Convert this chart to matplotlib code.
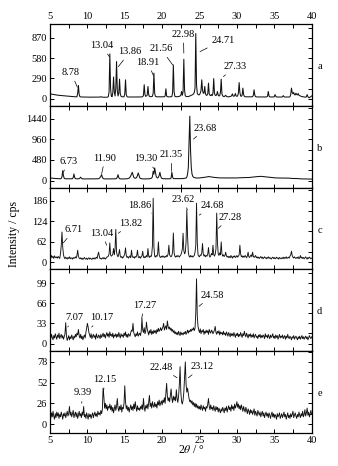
import numpy as np
import matplotlib.pyplot as plt
from matplotlib.ticker import MultipleLocator

plt.rcParams['font.family'] = ['Liberation Serif', 'DejaVu Serif']
plt.rcParams['mathtext.fontset'] = 'stix'

# 2theta grid, 0.1 deg step from 5 to 40
two_theta = np.round(np.arange(5, 40.001, 0.1), 1)

# intensities, one row per degree (x.0 ... x.9)
intensity_a = [
    72, 70, 66, 64, 62, 60, 58, 57, 55, 54,
    52, 50, 49, 48, 47, 46, 45, 44, 43, 42,
    41, 40, 39, 38, 37, 36, 35, 34, 33, 32,
    31, 30, 30, 29, 29, 28, 28, 80, 190, 60,
    30, 27, 26, 26, 25, 25, 25, 24, 24, 24,
    24, 23, 23, 23, 23, 22, 22, 22, 22, 22,
    22, 22, 22, 22, 22, 22, 22, 24, 30, 26,
    23, 22, 22, 22, 22, 22, 22, 24, 30, 100,
    640, 150, 40, 30, 90, 310, 100, 40, 150, 530,
    120, 40, 80, 280, 70, 35, 30, 28, 28, 28,
    70, 270, 60, 30, 26, 25, 25, 25, 25, 25,
    25, 25, 25, 25, 25, 25, 25, 25, 25, 25,
    25, 25, 26, 28, 30, 50, 200, 60, 35, 40,
    50, 175, 60, 35, 30, 30, 32, 35, 80, 365,
    80, 35, 30, 28, 28, 28, 28, 28, 28, 28,
    28, 28, 28, 30, 40, 142, 40, 30, 28, 28,
    28, 28, 30, 32, 90, 482, 100, 35, 30, 30,
    30, 30, 32, 35, 40, 50, 104, 50, 100, 563,
    120, 40, 35, 32, 32, 32, 35, 40, 45, 50,
    55, 60, 70, 90, 150, 930, 200, 80, 60, 55,
    60, 80, 120, 270, 120, 80, 80, 175, 70, 50,
    50, 70, 223, 70, 50, 45, 60, 45, 80, 288,
    80, 50, 45, 60, 104, 50, 40, 45, 90, 280,
    70, 40, 35, 30, 40, 50, 35, 30, 28, 28,
    30, 32, 35, 45, 70, 40, 35, 45, 75, 40,
    35, 40, 80, 231, 90, 40, 35, 50, 152, 60,
    35, 30, 28, 28, 28, 28, 28, 28, 28, 28,
    28, 30, 50, 128, 50, 30, 28, 26, 26, 26,
    26, 26, 26, 26, 26, 26, 26, 26, 26, 26,
    28, 35, 104, 40, 28, 26, 26, 26, 26, 26,
    28, 60, 35, 26, 25, 25, 25, 25, 25, 25,
    25, 28, 45, 30, 25, 25, 25, 25, 25, 25,
    25, 30, 60, 152, 90, 70, 90, 60, 55, 80,
    60, 55, 75, 50, 45, 40, 35, 30, 30, 28,
    26, 24, 22, 30, 60, 30, 18, 15, 25, 30,
    40,
]

intensity_b = [
    62, 60, 58, 56, 54, 52, 50, 49, 48, 47,
    46, 45, 44, 44, 43, 50, 90, 232, 110, 55,
    45, 43, 42, 44, 42, 41, 43, 42, 40, 42,
    45, 70, 155, 70, 45, 42, 43, 41, 42, 45,
    60, 80, 55, 42, 40, 41, 39, 40, 42, 40,
    40, 41, 39, 40, 42, 40, 41, 39, 40, 40,
    40, 41, 39, 40, 42, 45, 55, 75, 100, 140,
    80, 50, 42, 40, 41, 39, 40, 42, 40, 40,
    40, 41, 39, 40, 42, 40, 39, 41, 42, 50,
    80, 139, 70, 45, 40, 41, 39, 40, 42, 40,
    40, 41, 40, 42, 45, 50, 60, 80, 110, 150,
    193, 140, 80, 60, 55, 60, 80, 120, 178, 120,
    70, 50, 45, 42, 40, 41, 39, 40, 42, 40,
    40, 41, 40, 42, 45, 50, 60, 90, 217, 150,
    294, 200, 100, 70, 60, 80, 120, 193, 110, 60,
    50, 45, 42, 44, 42, 41, 43, 42, 44, 42,
    42, 44, 60, 193, 80, 50, 45, 47, 45, 46,
    45, 47, 45, 46, 48, 45, 47, 46, 48, 50,
    52, 55, 60, 80, 150, 300, 900, 1500, 700, 300,
    150, 100, 80, 70, 65, 62, 60, 60, 60, 62,
    62, 64, 66, 68, 70, 72, 75, 78, 80, 82,
    85, 90, 95, 92, 88, 85, 82, 80, 78, 76,
    74, 72, 70, 68, 66, 65, 64, 63, 62, 62,
    62, 64, 61, 63, 60, 62, 64, 61, 63, 62,
    62, 60, 63, 61, 64, 62, 60, 63, 61, 62,
    62, 62, 63, 64, 65, 66, 67, 68, 69, 70,
    70, 70, 70, 70, 70, 70, 72, 74, 76, 78,
    80, 82, 84, 86, 88, 90, 92, 94, 95, 96,
    97, 98, 100, 98, 96, 94, 92, 90, 88, 86,
    84, 82, 80, 78, 76, 74, 72, 70, 68, 66,
    65, 64, 63, 62, 61, 60, 60, 60, 60, 60,
    60, 60, 60, 60, 60, 60, 60, 60, 60, 58,
    56, 54, 52, 50, 50, 50, 50, 50, 50, 50,
    50, 48, 46, 44, 42, 40, 40, 40, 40, 40,
    40, 40, 38, 38, 38, 36, 36, 36, 35, 35,
    35,
]

intensity_c = [
    18, 12, 20, 14, 17, 11, 19, 15, 13, 16,
    12, 17, 14, 11, 25, 50, 91, 45, 22, 14,
    10, 15, 12, 9, 14, 11, 16, 10, 13, 12,
    9, 14, 11, 13, 16, 12, 20, 36, 18, 12,
    10, 13, 9, 12, 8, 11, 14, 10, 9, 12,
    8, 11, 13, 9, 12, 10, 8, 12, 10, 13,
    9, 12, 15, 11, 22, 30, 17, 10, 12, 9,
    11, 14, 10, 13, 9, 12, 15, 16, 18, 25,
    58, 22, 18, 20, 24, 41, 22, 40, 99, 30,
    20, 16, 25, 38, 18, 14, 17, 12, 15, 19,
    25, 43, 20, 14, 17, 12, 16, 19, 13, 36,
    18, 14, 16, 12, 17, 15, 20, 36, 16, 13,
    17, 12, 16, 19, 33, 15, 13, 17, 14, 20,
    16, 41, 18, 14, 19, 16, 22, 50, 193, 45,
    18, 15, 20, 17, 25, 61, 22, 16, 14, 18,
    15, 19, 16, 14, 18, 15, 20, 17, 25, 51,
    22, 18, 16, 20, 30, 88, 28, 18, 15, 19,
    16, 20, 18, 15, 19, 22, 28, 40, 87, 35,
    25, 30, 60, 158, 80, 30, 18, 15, 20, 16,
    19, 15, 18, 20, 30, 50, 178, 60, 22, 18,
    16, 22, 20, 28, 56, 25, 18, 22, 16, 20,
    18, 24, 44, 20, 15, 19, 26, 22, 51, 23,
    18, 24, 40, 148, 60, 25, 20, 28, 22, 61,
    25, 18, 22, 17, 20, 30, 19, 15, 18, 14,
    17, 13, 20, 16, 12, 18, 15, 19, 14, 16,
    20, 15, 18, 22, 51, 25, 16, 19, 14, 18,
    15, 20, 17, 13, 19, 30, 16, 14, 18, 22,
    16, 30, 18, 14, 17, 20, 13, 16, 12, 15,
    11, 14, 17, 12, 15, 10, 13, 16, 12, 14,
    10, 13, 16, 11, 14, 12, 9, 13, 15, 11,
    14, 10, 12, 15, 11, 13, 9, 14, 12, 10,
    13, 11, 15, 10, 14, 12, 16, 11, 13, 15,
    12, 18, 22, 33, 20, 15, 12, 16, 13, 11,
    14, 12, 16, 10, 13, 20, 12, 15, 11, 14,
    10, 13, 16, 12, 9, 14, 11, 15, 13, 10,
    12,
]

intensity_d = [
    12, 8, 15, 10, 6, 13, 9, 16, 11, 7,
    14, 10, 17, 8, 12, 15, 9, 13, 7, 11,
    16, 34, 12, 5, 9, 13, 6, 11, 8, 14,
    10, 6, 12, 9, 15, 11, 17, 14, 23, 13,
    9, 15, 8, 12, 6, 11, 14, 9, 18, 25,
    33, 27, 18, 14, 10, 16, 8, 12, 15, 10,
    13, 7, 16, 11, 9, 14, 12, 8, 15, 10,
    13, 17, 11, 15, 9, 14, 18, 12, 16, 10,
    19, 13, 15, 11, 17, 9, 14, 12, 16, 10,
    15, 11, 18, 13, 9, 16, 12, 14, 10, 17,
    13, 19, 11, 15, 10, 16, 14, 12, 18, 22,
    20, 33, 18, 14, 11, 16, 13, 19, 12, 15,
    17, 13, 20, 41, 22, 18, 26, 16, 20, 35,
    24, 19, 14, 21, 17, 23, 15, 20, 16, 22,
    18, 21, 16, 23, 19, 25, 20, 22, 26, 21,
    24, 27, 33, 22, 26, 29, 23, 37, 28, 24,
    27, 22, 25, 20, 23, 18, 21, 16, 19, 15,
    18, 14, 20, 16, 13, 19, 15, 17, 14, 18,
    16, 20, 15, 18, 22, 17, 21, 19, 23, 20,
    24, 22, 26, 21, 25, 50, 106, 45, 28, 22,
    18, 24, 16, 21, 19, 23, 15, 20, 17, 22,
    18, 21, 15, 23, 19, 17, 22, 20, 16, 19,
    22, 28, 18, 15, 20, 17, 21, 14, 19, 16,
    18, 14, 20, 15, 17, 13, 19, 16, 12, 18,
    15, 11, 17, 13, 16, 12, 18, 14, 10, 16,
    13, 17, 11, 15, 12, 18, 14, 10, 16, 13,
    20, 14, 11, 17, 13, 9, 15, 12, 16, 10,
    14, 11, 16, 9, 13, 15, 10, 12, 8, 14,
    11, 15, 9, 13, 10, 14, 12, 8, 16, 11,
    13, 9, 15, 11, 8, 14, 10, 12, 16, 9,
    12, 8, 14, 10, 13, 7, 11, 15, 9, 12,
    10, 14, 8, 11, 13, 7, 12, 9, 15, 10,
    8, 12, 10, 6, 11, 9, 13, 7, 10, 12,
    9, 6, 11, 8, 12, 7, 10, 13, 8, 11,
    7, 10, 12, 8, 11, 6, 9, 13, 10, 8,
    11,
]

intensity_e = [
    11, 7, 14, 9, 16, 10, 6, 13, 8, 15,
    10, 14, 7, 12, 9, 15, 11, 6, 13, 10,
    14, 8, 12, 16, 10, 13, 22, 11, 15, 9,
    13, 17, 8, 12, 15, 9, 14, 7, 11, 16,
    10, 13, 8, 15, 11, 22, 9, 12, 7, 14,
    10, 6, 13, 9, 12, 7, 11, 14, 8, 12,
    15, 10, 13, 9, 16, 12, 14, 11, 17, 13,
    18, 45, 35, 20, 26, 19, 24, 17, 22, 20,
    25, 18, 23, 16, 21, 14, 19, 24, 17, 22,
    32, 20, 16, 22, 18, 24, 15, 21, 19, 26,
    48, 28, 19, 23, 17, 21, 15, 20, 24, 18,
    22, 17, 25, 19, 28, 21, 16, 23, 18, 20,
    17, 22, 19, 24, 18, 32, 21, 16, 23, 20,
    25, 19, 27, 36, 22, 26, 20, 28, 23, 21,
    27, 22, 25, 20, 28, 24, 30, 23, 26, 29,
    24, 30, 27, 33, 26, 38, 51, 35, 29, 33,
    28, 36, 44, 32, 27, 35, 30, 34, 29, 43,
    32, 27, 35, 50, 72, 40, 28, 25, 30, 40,
    60, 78, 50, 40, 45, 38, 32, 28, 30, 26,
    29, 24, 27, 22, 26, 21, 25, 20, 23, 19,
    22, 18, 24, 20, 17, 23, 19, 21, 16, 22,
    20, 25, 32, 22, 18, 24, 19, 21, 17, 23,
    19, 16, 22, 18, 21, 15, 20, 17, 14, 19,
    16, 21, 18, 14, 20, 17, 22, 15, 19, 23,
    18, 21, 16, 24, 19, 22, 17, 25, 20, 23,
    28, 21, 25, 19, 23, 18, 24, 20, 16, 22,
    18, 15, 21, 17, 13, 19, 16, 12, 18, 14,
    17, 12, 15, 19, 11, 16, 13, 10, 17, 14,
    11, 15, 9, 13, 16, 10, 14, 8, 12, 15,
    10, 13, 8, 14, 11, 7, 12, 15, 9, 13,
    8, 12, 10, 6, 13, 9, 11, 14, 7, 10,
    13, 8, 11, 15, 9, 12, 6, 10, 14, 8,
    11, 7, 13, 9, 12, 16, 8, 11, 14, 10,
    7, 12, 9, 15, 11, 8, 13, 10, 16, 9,
    12, 18, 10, 14, 20, 11, 15, 9, 13, 17,
    12,
]

panel_names = ['a', 'b', 'c', 'd', 'e']
y_ticks = [
    [0, 290, 580, 870],
    [0, 480, 960, 1440],
    [0, 62, 124, 186],
    [0, 33, 66, 99],
    [0, 26, 52, 78],
]
y_limits = [(-100, 1065), (-163, 1742), (-22, 225), (-12.6, 121.4), (-11.3, 91.4)]

# peak labels: (text, label position, leader end)
labels_a = [('8.78', (7.81, 373), (8.65, 166)), ('13.04', (11.91, 756), (12.93, 600)),
            ('13.86', (15.70, 671), (14.14, 458)), ('18.91', (18.07, 521), (18.85, 326)),
            ('21.56', (19.85, 710), (21.41, 482)), ('22.98', (22.85, 918), (22.9, 650)),
            ('24.71', (28.1, 837), (25.06, 671)), ('27.33', (29.74, 458), (28.2, 316))]
labels_b = [('6.73', (7.45, 448), (6.78, 193)), ('11.90', (12.36, 526), (11.91, 162)),
            ('19.30', (17.8, 510), (18.95, 271)), ('21.35', (21.27, 603), (21.27, 216)),
            ('23.68', (25.82, 1222), (24.2, 967))]
labels_c = [('6.71', (8.21, 97), (6.78, 58)), ('13.04', (11.91, 87), (12.58, 51)),
            ('13.82', (15.79, 117), (14.14, 87)), ('18.86', (16.95, 170), (18.6, 148)),
            ('23.62', (22.83, 190), (23.37, 158)), ('24.68', (26.71, 170), (24.97, 142)),
            ('27.28', (29.07, 135), (27.51, 102))]
labels_d = [('7.07', (8.21, 42.5), (7.37, 27)), ('10.17', (11.91, 42.5), (10.57, 27)),
            ('17.27', (17.61, 62.6), (17.26, 41)), ('24.58', (26.71, 79), (24.93, 61))]
labels_e = [('9.39', (9.37, 39), (9.24, 26)), ('12.15', (12.36, 56), (12.13, 39)),
            ('22.48', (19.85, 71), (22.0, 58)), ('23.12', (25.37, 72), (23.5, 58))]

patterns = [intensity_a, intensity_b, intensity_c, intensity_d, intensity_e]
all_labels = [labels_a, labels_b, labels_c, labels_d, labels_e]

fig, axes = plt.subplots(5, 1, figsize=(3.38, 4.66), dpi=100, sharex=True)
fig.subplots_adjust(left=0.148, right=0.922, top=0.9485, bottom=0.0708, hspace=0)

for i, ax in enumerate(axes):
    ax.plot(two_theta, patterns[i], color='#111111', lw=0.75 if i < 2 else 0.65)
    ax.set_xlim(5, 40)
    ax.set_ylim(*y_limits[i])
    ax.set_yticks(y_ticks[i])
    step = y_ticks[i][1] - y_ticks[i][0]
    ax.yaxis.set_minor_locator(MultipleLocator(step / 2))
    ax.xaxis.set_major_locator(MultipleLocator(5))
    ax.xaxis.set_minor_locator(MultipleLocator(2.5))
    ax.tick_params(which='both', direction='in', top=True, right=True,
                   labelsize=7.5, pad=2, width=0.7)
    ax.tick_params(which='major', length=3)
    ax.tick_params(which='minor', length=3, left=False)
    for sp in ax.spines.values():
        sp.set_linewidth(0.9)
    for txt, pos, end in all_labels[i]:
        ax.annotate(txt, xy=end, xytext=pos, ha='center', va='center', fontsize=7.5,
                    arrowprops=dict(arrowstyle='-', lw=0.5, color='black',
                                    shrinkA=1, shrinkB=0))
    ax.text(1.03, 0.48, panel_names[i], transform=ax.transAxes,
            ha='center', va='center', fontsize=7.5)

axes[0].tick_params(labeltop=True)

fig.text(0.042, 0.497, 'Intensity / cps', rotation=90, ha='center', va='center', fontsize=8.5)
fig.text(0.567, 0.034, r'2$\mathit{\theta}$ / °', ha='center', va='center', fontsize=8.5)

fig.savefig('out.png', dpi=100)
